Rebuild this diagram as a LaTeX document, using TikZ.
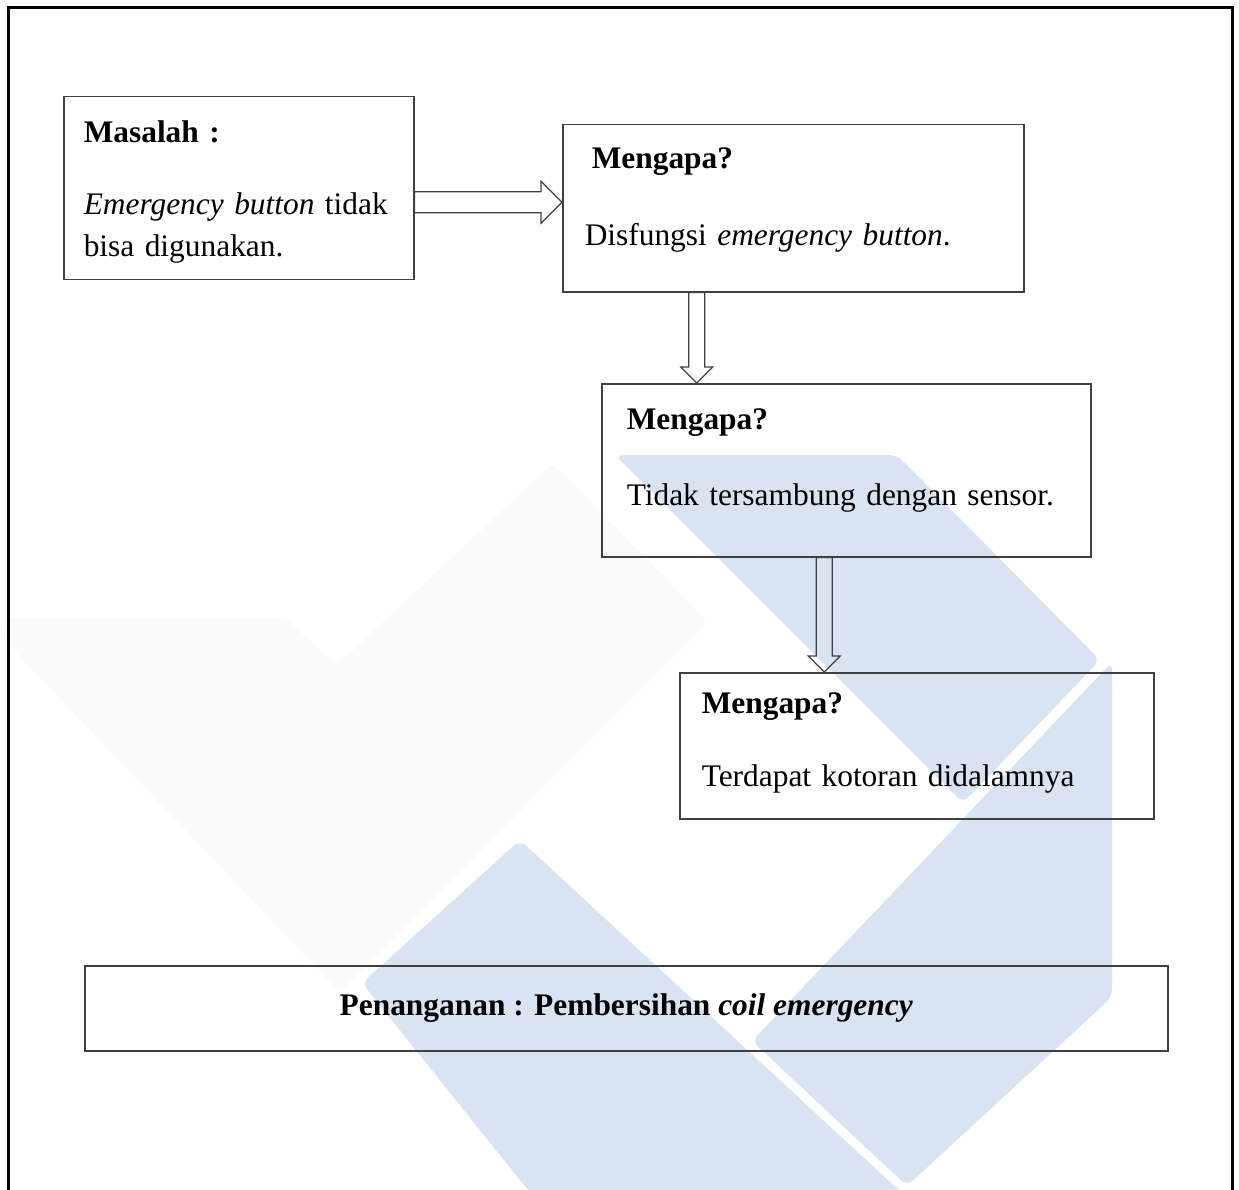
\documentclass[tikz,border=0pt]{standalone}
\usepackage{fontspec}
\setmainfont{Liberation Serif}
\usetikzlibrary{calc}
\definecolor{wmblue}{RGB}{218,227,242}
\definecolor{wmgrey}{RGB}{250,250,250}
\definecolor{cline}{gray}{0.25}

\begin{document}
\begin{tikzpicture}[
    x=1pt, y=-1pt,
    font=\fontsize{31.4}{42}\selectfont,
    box/.style={draw=cline, line width=1.5pt, anchor=north west, inner ysep=0pt, align=left},
    rarrow/.style={draw=cline, line width=1.2pt, to path={let \p1=(\tikztostart), \p2=(\tikztotarget) in
        (\x1,\y1+10.5pt) -- (\x2-21pt,\y1+10.5pt) -- (\x2-21pt,\y1+21pt) -- (\x2,\y1)
        -- (\x2-21pt,\y1-21pt) -- (\x2-21pt,\y1-10.5pt) -- (\x1,\y1-10.5pt) -- cycle}},
    darrow/.style={draw=cline, line width=1.2pt, to path={let \p1=(\tikztostart), \p2=(\tikztotarget) in
        (\x1-8pt,\y1) -- (\x1-8pt,\y2+16pt) -- (\x1-16pt,\y2+16pt) -- (\x1,\y2)
        -- (\x1+16pt,\y2+16pt) -- (\x1+8pt,\y2+16pt) -- (\x1+8pt,\y1) -- cycle}},
    frame/.style={draw=black, line width=3pt},
    wmshape/.style={fill=#1, rounded corners=8pt}
]
\useasboundingbox (0,0) rectangle (1239,1190);

\fill[wmshape=wmgrey] (4,618) -- (286,618) -- (336,666) -- (553,463) -- (708,622) -- (340,992) -- (4,640) -- cycle;
\fill[wmshape=wmblue] (615,455) -- (897,455) -- (1100,660) -- (963,803) -- cycle;
\fill[wmshape=wmblue] (1112,662) -- (1112,997) -- (907,1186) -- (752,1041) -- cycle;
\fill[wmshape=wmblue] (520,840) -- (362,983) -- (540,1205) -- (915,1205) -- cycle;

\draw[frame] (8,1195) -- (8,8) -- (1232,8) -- (1232,1195);

\node[box, text width=310pt, inner xsep=20pt, text height=46pt, text depth=137pt] (masalah) at (63,96) {\textbf{Masalah :}\\[30pt]\textit{Emergency button} tidak\\bisa digunakan.};
\node[box, text width=417pt, inner xsep=22pt, text height=44pt, text depth=123pt] (why1) at (562,124) {\hspace*{7pt}\textbf{Mengapa?}\\[35pt]Disfungsi \textit{emergency button}.};
\node[box, text width=439pt, inner xsep=25pt, text height=46pt, text depth=127pt] (why2) at (601,383) {\textbf{Mengapa?}\\[34pt]Tidak tersambung dengan sensor.};
\node[box, text width=430pt, inner xsep=22pt, text height=41pt, text depth=105pt] (why3) at (679,672) {\textbf{Mengapa?}\\[31pt]Terdapat kotoran didalamnya};
\node[box, align=center, minimum width=1083pt, minimum height=85pt, inner sep=0pt] (solusi) at (84,965) {\textbf{Penanganan : Pembersihan \textit{coil emergency}}};

\coordinate (a1) at ($(masalah.east)+(0,14)$);
\coordinate (a2) at ($(why1.south)+(-96.5,0)$);
\coordinate (a3) at ($(why2.south)+(-22,0)$);

\draw[rarrow] (a1) to (a1 -| why1.west);
\draw[darrow] (a2) to (a2 |- why2.north);
\draw[darrow] (a3) to (a3 |- why3.north);

\end{tikzpicture}
\end{document}
